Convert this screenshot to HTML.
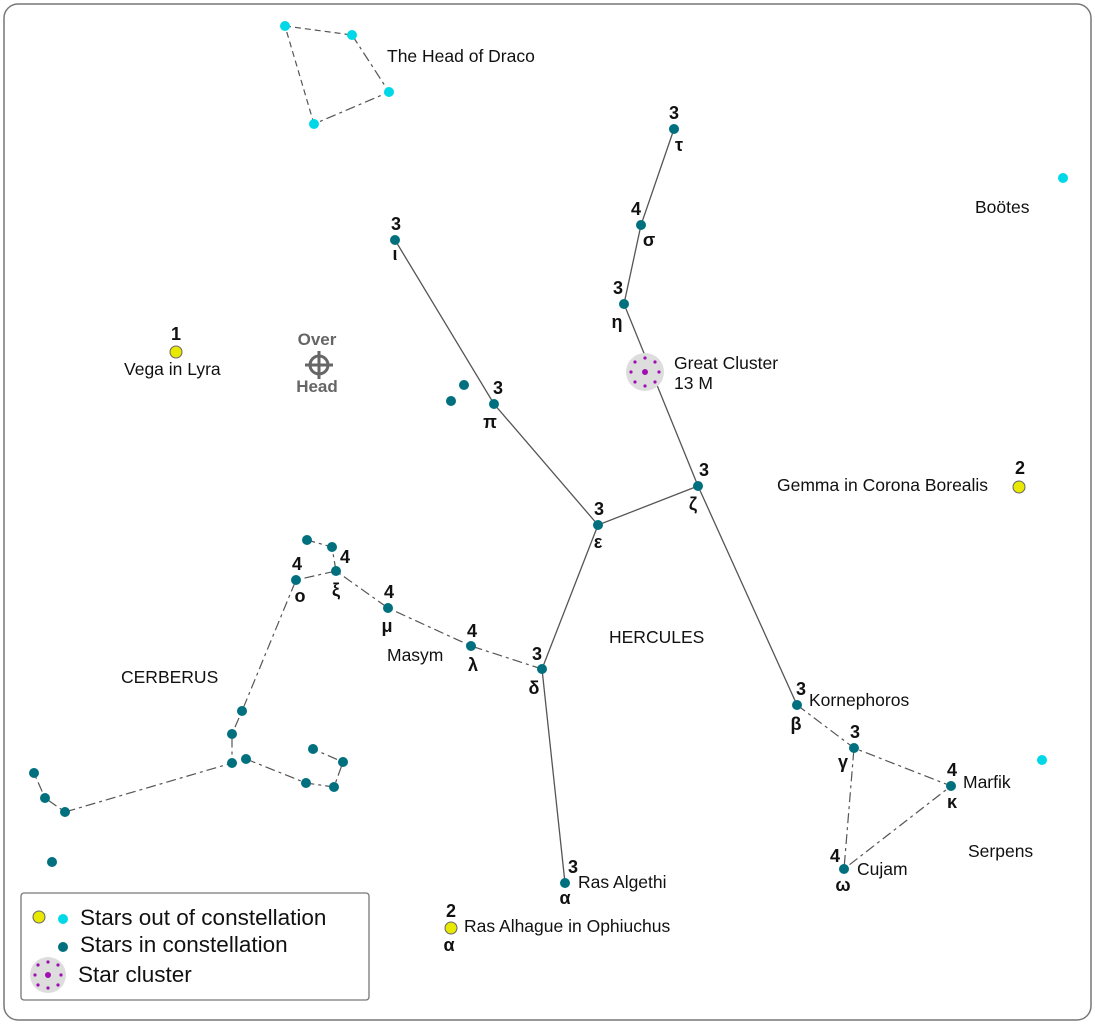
<!DOCTYPE html>
<html><head><meta charset="utf-8"><style>body{margin:0;background:#fff}svg{display:block}text{font-family:"Liberation Sans",sans-serif}</style></head><body>
<svg width="1095" height="1024" viewBox="0 0 1095 1024">
<rect x="4" y="4" width="1087" height="1016" rx="14" fill="#fff" stroke="#777" stroke-width="1.5"/>
<g stroke="#555" stroke-width="1.3" fill="none">
<polyline points="674,129 641,225 624,304 698,486"/>
<polyline points="395,240 494,404 598,525 698,486"/>
<polyline points="598,525 542,669 565,883"/>
<line x1="698" y1="486" x2="797" y2="705"/>
</g>
<g stroke="#555" stroke-width="1.2" fill="none" stroke-dasharray="10,4,3,4">
<polyline points="285,26 352,35" stroke-dasharray="6,4"/>
<polyline points="352,35 389,92 314,124"/>
<polyline points="314,124 285,26" stroke-dasharray="6,4"/>
<polyline points="797,705 854,748 951,786 844,869 854,748"/>
<polyline points="542,669 471,646 388,608 336,571 296,580 242,711 232,734 232,763 65,812 45,798 34,773"/>
<polyline points="336,571 332,547 307,540"/>
<polyline points="246,759 306,783 334,787 343,762 313,749"/>
</g>
<g fill="#00707f">
<circle cx="674" cy="129" r="5"/><circle cx="641" cy="225" r="5"/><circle cx="624" cy="304" r="5"/><circle cx="698" cy="486" r="5"/>
<circle cx="395" cy="240" r="5"/><circle cx="494" cy="404" r="5"/><circle cx="598" cy="525" r="5"/><circle cx="542" cy="669" r="5"/><circle cx="565" cy="883" r="5"/>
<circle cx="797" cy="705" r="5"/><circle cx="854" cy="748" r="5"/><circle cx="951" cy="786" r="5"/><circle cx="844" cy="869" r="5"/>
<circle cx="471" cy="646" r="5"/><circle cx="388" cy="608" r="5"/><circle cx="336" cy="571" r="5"/><circle cx="296" cy="580" r="5"/>
<circle cx="332" cy="547" r="5"/><circle cx="307" cy="540" r="5"/><circle cx="242" cy="711" r="5"/><circle cx="232" cy="734" r="5"/><circle cx="232" cy="763" r="5"/>
<circle cx="246" cy="759" r="5"/><circle cx="306" cy="783" r="5"/><circle cx="334" cy="787" r="5"/><circle cx="343" cy="762" r="5"/><circle cx="313" cy="749" r="5"/>
<circle cx="65" cy="812" r="5"/><circle cx="45" cy="798" r="5"/><circle cx="34" cy="773" r="5"/><circle cx="52" cy="862" r="5"/>
<circle cx="464" cy="385" r="5"/><circle cx="451" cy="401" r="5"/>
<circle cx="63" cy="947" r="5"/>
</g>
<g fill="#00d8e8">
<circle cx="285" cy="26" r="5"/><circle cx="352" cy="35" r="5"/><circle cx="389" cy="92" r="5"/><circle cx="314" cy="124" r="5"/>
<circle cx="1063" cy="178" r="5"/><circle cx="1042" cy="760" r="5"/><circle cx="63" cy="919" r="5"/>
</g>
<g fill="#e8e800" stroke="#666" stroke-width="1">
<circle cx="176" cy="352" r="6"/><circle cx="1019" cy="487" r="6"/><circle cx="451" cy="928" r="6"/><circle cx="39" cy="917" r="6"/>
</g>
<g>
<circle cx="645" cy="372" r="19" fill="#ddd"/>
<g fill="#a010b0"><circle cx="645" cy="372" r="3"/><circle cx="635" cy="362" r="1.6"/><circle cx="645" cy="358" r="1.6"/><circle cx="655" cy="362" r="1.6"/><circle cx="631" cy="372" r="1.6"/><circle cx="659" cy="372" r="1.6"/><circle cx="635" cy="382" r="1.6"/><circle cx="645" cy="386" r="1.6"/><circle cx="655" cy="382" r="1.6"/></g>
<circle cx="48" cy="975" r="18" fill="#ddd"/>
<g fill="#a010b0"><circle cx="48" cy="975" r="3"/><circle cx="38" cy="965" r="1.6"/><circle cx="48" cy="962" r="1.6"/><circle cx="58" cy="965" r="1.6"/><circle cx="35" cy="975" r="1.6"/><circle cx="61" cy="975" r="1.6"/><circle cx="38" cy="985" r="1.6"/><circle cx="48" cy="988" r="1.6"/><circle cx="58" cy="985" r="1.6"/></g>
</g>
<g stroke="#666" stroke-width="3" fill="none"><circle cx="319" cy="365" r="9"/><line x1="319" y1="351" x2="319" y2="379"/><line x1="305" y1="365" x2="333" y2="365"/></g>
<g font-size="17" font-weight="bold" fill="#666" text-anchor="middle"><text x="317" y="345">Over</text><text x="317" y="392">Head</text></g>
<g font-size="18" font-weight="bold" fill="#111" text-anchor="middle">
<text x="674" y="119">3</text><text x="679" y="151">τ</text>
<text x="636" y="215">4</text><text x="649" y="246">σ</text>
<text x="618" y="294">3</text><text x="617" y="328">η</text>
<text x="704" y="476">3</text><text x="693" y="510">ζ</text>
<text x="396" y="230">3</text><text x="395" y="260">ι</text>
<text x="498" y="394">3</text><text x="490" y="428">π</text>
<text x="599" y="515">3</text><text x="598" y="548">ε</text>
<text x="537" y="660">3</text><text x="534" y="694">δ</text>
<text x="573" y="873">3</text><text x="565" y="904">α</text>
<text x="801" y="695">3</text><text x="796" y="730">β</text>
<text x="855" y="738">3</text><text x="843" y="768">γ</text>
<text x="952" y="776">4</text><text x="952" y="808">κ</text>
<text x="835" y="862">4</text><text x="843" y="891">ω</text>
<text x="472" y="637">4</text><text x="473" y="671">λ</text>
<text x="389" y="598">4</text><text x="387" y="632">μ</text>
<text x="345" y="563">4</text><text x="336" y="596">ξ</text>
<text x="297" y="570">4</text><text x="300" y="602">ο</text>
<text x="176" y="340">1</text>
<text x="1020" y="474">2</text>
<text x="451" y="917">2</text><text x="449" y="951">α</text>
</g>
<g font-size="17.5" fill="#111">
<text x="387" y="62">The Head of Draco</text>
<text x="975" y="213">Boötes</text>
<text x="124" y="375">Vega in Lyra</text>
<text x="674" y="369">Great Cluster</text><text x="674" y="389">13 M</text>
<text x="777" y="491">Gemma in Corona Borealis</text>
<text x="609" y="643">HERCULES</text>
<text x="121" y="683">CERBERUS</text>
<text x="387" y="661">Masym</text>
<text x="809" y="706">Kornephoros</text>
<text x="963" y="788">Marfik</text>
<text x="968" y="857">Serpens</text>
<text x="857" y="875">Cujam</text>
<text x="578" y="888">Ras Algethi</text>
<text x="464" y="932">Ras Alhague in Ophiuchus</text>
</g>
<rect x="21" y="893" width="348" height="107" rx="3" fill="none" stroke="#777" stroke-width="1.3"/>
<g font-size="22.5" fill="#111">
<text x="80" y="925">Stars out of constellation</text>
<text x="80" y="952">Stars in constellation</text>
<text x="78" y="982">Star cluster</text>
</g>
</svg>
</body></html>
